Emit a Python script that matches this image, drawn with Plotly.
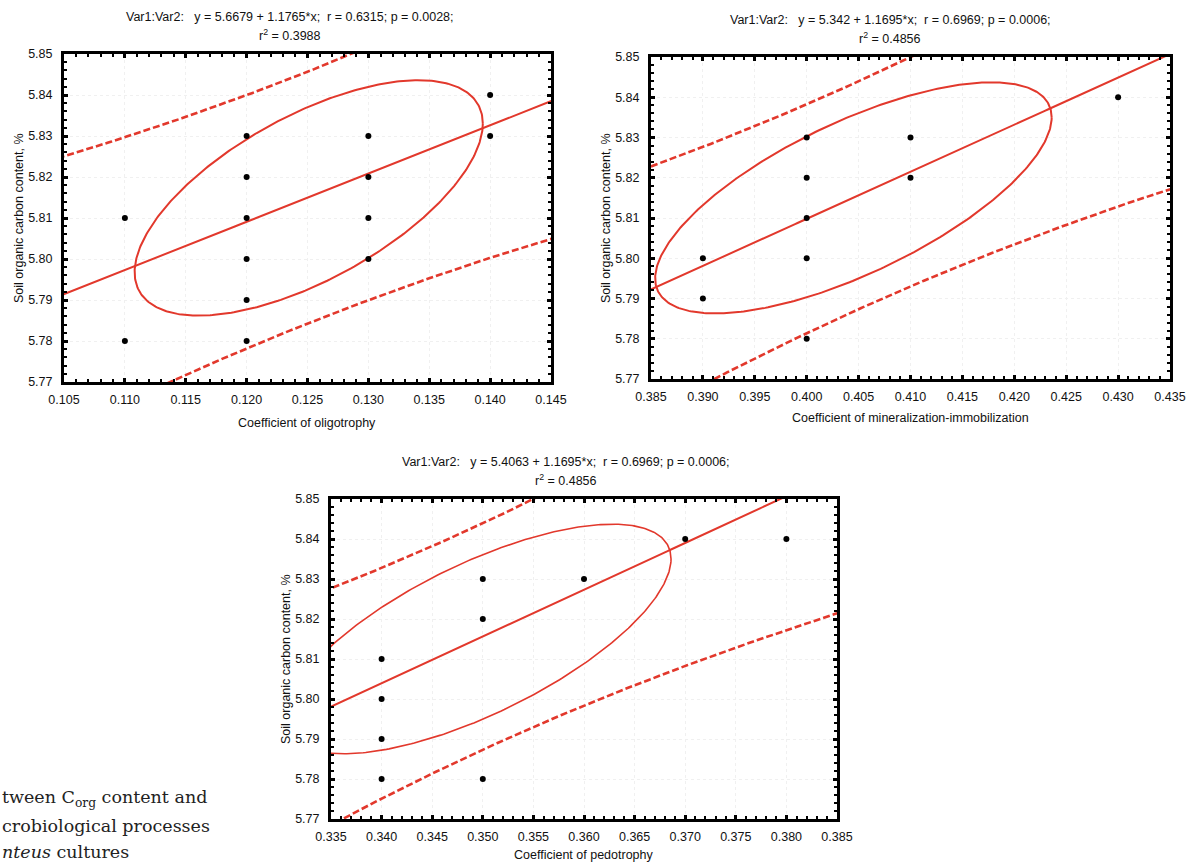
import numpy as np
import plotly.graph_objects as go

# ---------------- data ----------------
# Panel 1: oligotrophy
p1_x = [0.11, 0.11, 0.12, 0.12, 0.12, 0.12, 0.12, 0.12, 0.13, 0.13, 0.13, 0.13, 0.14, 0.14]
p1_y = [5.81, 5.78, 5.83, 5.82, 5.81, 5.80, 5.79, 5.78, 5.83, 5.82, 5.81, 5.80, 5.84, 5.83]
# Panel 2: mineralization-immobilization
p2_x = [0.39, 0.39, 0.40, 0.40, 0.40, 0.40, 0.40, 0.41, 0.41, 0.43]
p2_y = [5.80, 5.79, 5.83, 5.82, 5.81, 5.80, 5.78, 5.83, 5.82, 5.84]
# Panel 3: pedotrophy
p3_x = [0.34, 0.34, 0.34, 0.34, 0.35, 0.35, 0.35, 0.36, 0.37, 0.38]
p3_y = [5.81, 5.80, 5.79, 5.78, 5.83, 5.82, 5.78, 5.83, 5.84, 5.84]

# regression (intercept, slope) from the panel titles
intercepts = [5.6679, 5.342, 5.4063]
slopes = [1.1765, 1.1695, 1.1695]
r_values = [0.6315, 0.6969, 0.6969]
p_values = ["0.0028", "0.0006", "0.0006"]
r2_values = ["0.3988", "0.4856", "0.4856"]
eq_text = ["y = 5.6679 + 1.1765*x", "y = 5.342 + 1.1695*x", "y = 5.4063 + 1.1695*x"]

# confidence ellipse (centre, half extents)
ell_cx = [0.1251, 0.4045, 0.3495]
ell_cy = [5.8149, 5.815, 5.815]
ell_ax = [0.0143, 0.0191, 0.0191]
ell_ay = [0.0287, 0.0287, 0.0287]

# prediction band parameters (half width at centre, growth)
band_h0 = [0.0307, 0.0283, 0.0283]
band_c = [0.68, 0.587, 0.587]

x_ranges = [[0.105, 0.145], [0.385, 0.435], [0.335, 0.385]]
y_range = [5.77, 5.85]
x_labels = ["Coefficient of oligotrophy",
            "Coefficient of mineralization-immobilization",
            "Coefficient of pedotrophy"]
y_label = "Soil organic carbon content, %"

# ---------------- layout geometry ----------------
W, H = 1188, 863
boxes = [(64, 551, 54, 382), (651, 1170, 57, 379), (331, 837, 499, 819)]
title_cx = [290, 890, 566]
xlabel_off = [41, 39, 36]


def px(xp):
    return xp / W


def py(yp):
    return 1 - yp / H


RED = "#E2382C"
FONT = "Liberation Sans"
FS = 12.5

fig = go.Figure()
xs_pts = [p1_x, p2_x, p3_x]
ys_pts = [p1_y, p2_y, p3_y]

for i in range(3):
    xa = "x" if i == 0 else f"x{i+1}"
    ya = "y" if i == 0 else f"y{i+1}"
    x0, x1 = x_ranges[i]
    xx = np.linspace(x0 - 0.01, x1 + 0.01, 300)
    yfit = intercepts[i] + slopes[i] * xx
    half = np.sqrt(band_h0[i] ** 2 + (band_c[i] * (xx - ell_cx[i])) ** 2)
    ew = 2.0 if i < 2 else 1.6
    for sgn in (1, -1):
        fig.add_trace(go.Scatter(x=xx, y=yfit + sgn * half, mode="lines",
                                 line=dict(color=RED, width=2.6, dash="7px,3px"),
                                 xaxis=xa, yaxis=ya, showlegend=False, hoverinfo="skip"))
    fig.add_trace(go.Scatter(x=xx, y=yfit, mode="lines",
                             line=dict(color=RED, width=2.0),
                             xaxis=xa, yaxis=ya, showlegend=False, hoverinfo="skip"))
    t = np.linspace(0, 2 * np.pi, 400)
    phi = np.arccos(r_values[i])
    ex = ell_cx[i] + ell_ax[i] * np.cos(t)
    ey = ell_cy[i] + ell_ay[i] * np.cos(t - phi)
    fig.add_trace(go.Scatter(x=ex, y=ey, mode="lines",
                             line=dict(color=RED, width=ew),
                             xaxis=xa, yaxis=ya, showlegend=False, hoverinfo="skip"))
    fig.add_trace(go.Scatter(x=xs_pts[i], y=ys_pts[i], mode="markers",
                             marker=dict(color="black", size=6),
                             xaxis=xa, yaxis=ya, showlegend=False, cliponaxis=False))

layout = dict(
    width=W, height=H,
    margin=dict(l=0, r=0, t=0, b=0, pad=0, autoexpand=False),
    paper_bgcolor="white", plot_bgcolor="white",
    font=dict(family=FONT, size=FS, color="#111"),
    showlegend=False,
)

annotations = []
nb = "\u00a0"
for i in range(3):
    L, R, T, B = boxes[i]
    xd = [px(L), px(R)]
    yd = [py(B), py(T)]
    suffix = "" if i == 0 else str(i + 1)
    common_ax = dict(showline=True, linecolor="black", linewidth=3, mirror="allticks",
                     ticks="inside", ticklen=4, tickwidth=2.5, tickcolor="black",
                     showgrid=True, gridcolor="#f0f0f0", griddash="dot", gridwidth=1,
                     zeroline=False, automargin=False,
                     tickfont=dict(family=FONT, size=FS, color="#111"))
    layout["xaxis" + suffix] = dict(domain=xd, range=x_ranges[i], dtick=0.005,
                                    tick0=x_ranges[i][0], tickformat=".3f",
                                    anchor="y" + suffix, ticklabelstandoff=4,
                                    minor=dict(ticks="inside", ticklen=3, tickwidth=2,
                                               tickcolor="black", dtick=0.001,
                                               tick0=x_ranges[i][0], showgrid=False),
                                    **common_ax)
    layout["yaxis" + suffix] = dict(domain=yd, range=y_range, dtick=0.01, tick0=5.77,
                                    tickformat=".2f", anchor="x" + suffix,
                                    ticklabelstandoff=6,
                                    minor=dict(ticks="inside", ticklen=3, tickwidth=2,
                                               tickcolor="black", dtick=0.002,
                                               tick0=5.77, showgrid=False),
                                    **common_ax)
    line1 = f"Var1:Var2:{nb*3}{eq_text[i]};{nb*2}r = {r_values[i]:.4f}; p = {p_values[i]};"
    line2 = f"r<sup>2</sup> = {r2_values[i]}"
    annotations.append(dict(text=line1, x=px(title_cx[i]), y=py(T - 37),
                            xref="paper", yref="paper", showarrow=False,
                            xanchor="center", yanchor="middle",
                            font=dict(family=FONT, size=FS, color="#111")))
    annotations.append(dict(text=line2, x=px(title_cx[i]), y=py(T - 19),
                            xref="paper", yref="paper", showarrow=False,
                            xanchor="center", yanchor="middle",
                            font=dict(family=FONT, size=FS, color="#111")))
    annotations.append(dict(text=x_labels[i], x=px((L + R) / 2),
                            y=py(B + xlabel_off[i]),
                            xref="paper", yref="paper", showarrow=False,
                            xanchor="center", yanchor="middle",
                            font=dict(family=FONT, size=FS, color="#111")))
    annotations.append(dict(text=y_label, x=px(L - 45), y=py((T + B) / 2),
                            xref="paper", yref="paper", showarrow=False, textangle=-90,
                            xanchor="center", yanchor="middle",
                            font=dict(family=FONT, size=FS, color="#111")))

# caption fragment (bottom left)
SERIF = "DejaVu Serif"
cap_lines = ["tween C<sub>org</sub> content and",
             "crobiological processes",
             "<i>nteus</i> cultures"]
cap_y = [798, 826, 852]
for txt, yy in zip(cap_lines, cap_y):
    annotations.append(dict(text=txt, x=px(0), y=py(yy), xref="paper", yref="paper",
                            showarrow=False, xanchor="left", yanchor="middle",
                            font=dict(family=SERIF, size=17.5, color="#222")))

layout["annotations"] = annotations
fig.update_layout(**layout)
fig.write_html("out.html",
               config={"displayModeBar": False},
               post_script="document.body.style.margin='0';"
                           "document.body.style.overflow='hidden';")
